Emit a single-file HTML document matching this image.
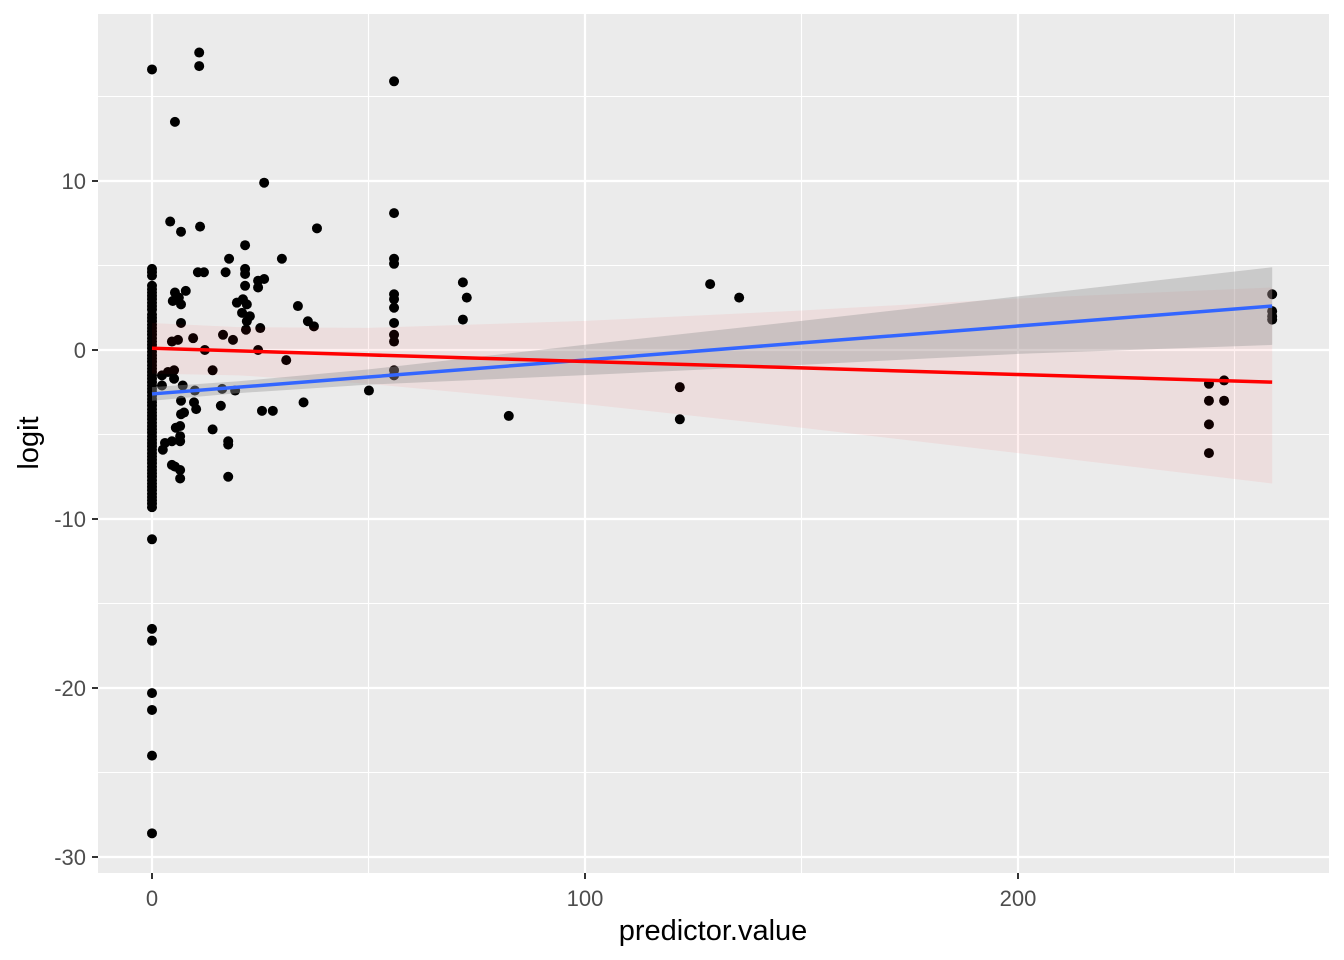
<!DOCTYPE html>
<html><head><meta charset="utf-8"><style>
body{margin:0;background:#fff;width:1344px;height:960px;overflow:hidden}
svg{display:block}
text{font-family:"Liberation Sans",Arial,sans-serif}
</style></head><body>
<svg id="chart" width="1344" height="960" viewBox="0 0 1344 960">
<rect x="98" y="14" width="1231" height="859" fill="#EBEBEB"/>
<g id="grid"></g>
<g id="pts"></g>
<g id="ribbons"></g>
<g id="lines"></g>
<g id="axes"></g>
<text x="713" y="940" text-anchor="middle" font-size="29" fill="#000">predictor.value</text>
<text transform="translate(38,443) rotate(-90)" text-anchor="middle" font-size="29" fill="#000">logit</text>
</svg>
<script>
const xTicks=[0,100,200];
const yTicks=[10,0,-10,-20,-30];
const xMinor=[50,150,250];
const yMinor=[15,5,-5,-15,-25];
const zeroY=[4.8,4.6,4.4,3.8,3.6,3.4,3.2,3.0,2.8,2.6,2.4,2.1,1.9,1.7,1.5,1.3,1.1,0.9,0.7,0.5,0.3,0.1,-0.1,-0.3,-0.5,-0.7,-0.9,-1.1,-1.3,-1.5,-1.7,-1.9,-2.1,-2.3,-2.5,-2.7,-2.9,-3.1,-3.3,-3.5,-3.7,-3.9,-4.1,-4.3,-4.5,-4.7,-4.9,-5.1,-5.3,-5.5,-5.7,-5.9,-6.1,-6.3,-6.5,-6.7,-6.9,-7.1,-7.3,-7.5,-7.7,-7.9,-8.1,-8.3,-8.5,-8.7,-8.9,-9.1,-9.3,16.6,-11.2,-16.5,-17.2,-20.3,-21.3,-24.0,-28.6];
const ptX=[5.3,10.9,10.9,55.9,25.9,55.9,4.2,6.7,11.1,38.1,21.5,17.8,30,55.9,55.9,10.6,12,17,21.5,21.5,25.9,24.5,21.5,24.5,71.8,128.9,5.3,6.2,7.8,55.9,55.9,55.9,72.7,135.6,33.7,19.6,21,21.9,4.8,6.7,20.8,22.6,21.9,36,37.4,6.7,71.8,55.9,55.9,55.9,16.4,18.7,21.7,25,4.6,6,9.5,12.2,2.3,3.7,5.1,24.5,31,14,5.1,50.1,19.2,16.2,9.9,7.1,2.3,55.9,55.9,121.9,244.1,244.1,244.1,244.1,247.6,247.6,258.7,258.7,258.7,258.7,82.4,121.9,35,25.4,27.9,14,15.9,9.7,10.2,17.6,17.6,17.6,4.6,6.5,6.5,4.6,6.5,6.5,6.7,6.7,6.5,5.5,2.5,7.4,3,5.3];
const ptY=[13.5,17.6,16.8,15.9,9.9,8.1,7.6,7.0,7.3,7.2,6.2,5.4,5.4,5.4,5.1,4.6,4.6,4.6,4.8,4.5,4.2,4.1,3.8,3.7,4.0,3.9,3.4,3.1,3.5,3.3,3.0,2.5,3.1,3.1,2.6,2.8,3.0,2.7,2.9,2.7,2.2,2.0,1.7,1.7,1.4,1.6,1.8,1.6,0.9,0.5,0.9,0.6,1.2,1.3,0.5,0.6,0.7,0,-1.5,-1.3,-1.2,0,-0.6,-1.2,-1.7,-2.4,-2.4,-2.3,-2.4,-2.1,-2.1,-1.2,-1.5,-2.2,-2.0,-3.0,-4.4,-6.1,-1.8,-3.0,3.3,2.3,2.0,1.8,-3.9,-4.1,-3.1,-3.6,-3.6,-4.7,-3.3,-3.1,-3.5,-5.4,-5.6,-7.5,-5.4,-5.1,-5.4,-6.8,-7.1,-7.6,-3.0,-3.8,-4.5,-4.6,-5.9,-3.7,-5.5,-6.9];
const fitX=[0,20,50,100,150,200,258.7];
const blueLo=[-3.0,-2.55,-2.05,-1.49,-0.88,-0.23,0.3];
const blueMid=[-2.6,-2.2,-1.6,-0.59,0.42,1.42,2.6];
const blueHi=[-2.2,-1.85,-1.15,0.31,1.72,3.17,4.9];
const redLo=[-1.4,-1.5,-2.0,-3.2,-4.6,-6.1,-7.9];
const redMid=[0.1,-0.05,-0.29,-0.68,-1.06,-1.45,-1.9];
const redHi=[1.6,1.35,1.31,1.72,2.34,3.05,3.7];

const X=v=>152+v*4.33, Y=v=>350-v*16.9;
const NS='http://www.w3.org/2000/svg';
function mk(tag,parent,attrs){const e=document.createElementNS(NS,tag);for(const k in attrs)e.setAttribute(k,attrs[k]);parent.appendChild(e);return e;}
const grid=document.getElementById('grid'),pts=document.getElementById('pts'),rib=document.getElementById('ribbons'),lines=document.getElementById('lines'),axes=document.getElementById('axes');
xMinor.forEach(v=>{const l=mk('line',grid,{x1:X(v),x2:X(v),y1:14,y2:873,stroke:'#fff','stroke-width':1.1});

});
yMinor.forEach(v=>{const l=mk('line',grid,{x1:98,x2:1329,y1:Y(v),y2:Y(v),stroke:'#fff','stroke-width':1.1});

});
xTicks.forEach(v=>{const l=mk('line',grid,{x1:X(v),x2:X(v),y1:14,y2:873,stroke:'#fff','stroke-width':2.2});


const t=mk('line',axes,{x1:X(v),x2:X(v),y1:873,y2:879,stroke:'#333','stroke-width':2});


const tx=mk('text',axes,{x:X(v),y:906,'text-anchor':'middle','font-size':22,fill:'#4D4D4D'});tx.textContent=v;

});
yTicks.forEach(v=>{const l=mk('line',grid,{x1:98,x2:1329,y1:Y(v),y2:Y(v),stroke:'#fff','stroke-width':2.2});


const t=mk('line',axes,{x1:92,x2:98,y1:Y(v),y2:Y(v),stroke:'#333','stroke-width':2});


const tx=mk('text',axes,{x:86,y:Y(v)+8,'text-anchor':'end','font-size':22,fill:'#4D4D4D'});tx.textContent=v;

});
zeroY.forEach(v=>{const c=mk('circle',pts,{cx:X(0),cy:Y(v),r:5,fill:'#000'});

});
ptX.forEach((v,i)=>{const c=mk('circle',pts,{cx:X(v),cy:Y(ptY[i]),r:5,fill:'#000'});

});
function band(lo,hi,fill,op,name){let d='M'+fitX.map((x,i)=>X(x)+','+Y(hi[i])).join('L');
for(let i=fitX.length-1;i>=0;i--)d+='L'+X(fitX[i])+','+Y(lo[i]);d+='Z';
const p=mk('path',rib,{d:d,fill:fill,'fill-opacity':op});

}
band(redLo,redHi,'#FF0000',0.06,'red-confidence-band');
band(blueLo,blueHi,'#999999',0.4,'blue-confidence-band');
function line(mid,col,name){const p=mk('polyline',lines,{points:fitX.map((x,i)=>X(x)+','+Y(mid[i])).join(' '),fill:'none',stroke:col,'stroke-width':3.5});

}
line(blueMid,'#3366FF','blue-fit-line');
line(redMid,'#FF0000','red-fit-line');
</script>
</body></html>
